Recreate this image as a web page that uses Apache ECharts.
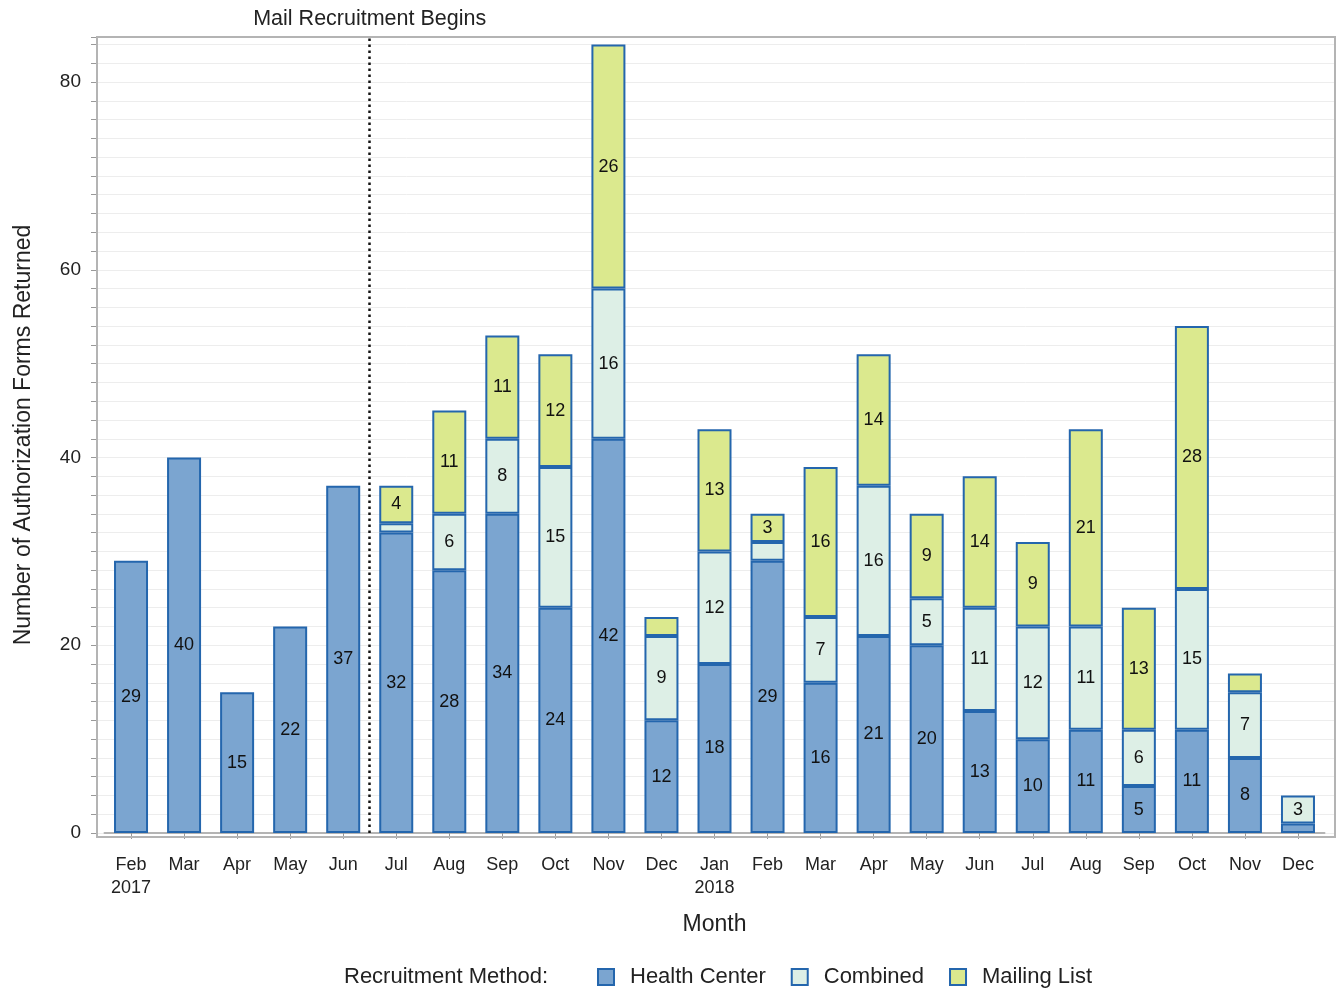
<!DOCTYPE html>
<html>
<head>
<meta charset="utf-8">
<script src="https://cdn.jsdelivr.net/npm/echarts@6/dist/echarts.min.js"></script>
<style>
html,body{margin:0;padding:0;background:#fff;}
#chart{width:1338px;height:989px;}
</style>
</head>
<body>
<div id="chart"></div>
<script>
const months = ['Feb\n2017','Mar','Apr','May','Jun','Jul','Aug','Sep','Oct','Nov','Dec','Jan\n2018','Feb','Mar','Apr','May','Jun','Jul','Aug','Sep','Oct','Nov','Dec'];
const healthCenter = [29,40,15,22,37,32,28,34,24,42,12,18,29,16,21,20,13,10,11,5,11,8,1];
const combined     = [null,null,null,null,null,1,6,8,15,16,9,12,2,7,16,5,11,12,11,6,15,7,3];
const mailingList  = [null,null,null,null,null,4,11,11,12,26,2,13,3,16,14,9,14,9,21,13,28,2,null];
const yTickLabels = [0,20,40,60,80];
const markerPosition = 4.5; // between Jun and Jul 2017 (category index units)
const markerText = 'Mail Recruitment Begins';

const FONT = '"Liberation Sans", Arial, sans-serif';
const BORDER = '#2466ad';
const colors = {hc:'#7ba5d0', comb:'#ddefe6', mail:'#dbe98e'};

// layout: bar grid and the wider framed grid
const W = 1338;
const L0 = 104.5, R0 = 1324.5;   // bar grid
const L1 = 97, R1 = 1335;        // frame grid
const band = (R0 - L0) / months.length;
const frameMin = (L1 - L0) / band - 0.5;
const frameMax = (R1 - L0) / band - 0.5;

function lbl(p){ return (p.value != null && p.value >= 3) ? String(p.value) : ''; }

function barSeries(name, data, fill){
  return {
    name: name, type: 'bar', stack: 'total', data: data,
    xAxisIndex: 0, yAxisIndex: 0,
    barWidth: 34,
    itemStyle: {color: fill, borderColor: BORDER, borderWidth: 2},
    label: {show: true, position: 'inside', formatter: lbl, color: '#111', fontSize: 18, fontFamily: FONT},
    emphasis: {disabled: true}
  };
}

const chart = echarts.init(document.getElementById('chart'));
chart.setOption({
  animation: false,
  backgroundColor: '#fff',
  title: {text: 'Recruitment Method:', left: 339, top: 961, textStyle: {fontSize: 22, fontWeight: 'normal', color: '#222', fontFamily: FONT}},
  graphic: [{type:'rect', shape:{x:L1, y:37, width:R1-L1, height:800}, style:{fill:'none', stroke:'#b4b4b4', lineWidth:2}, z: 1}],
  legend: {
    left: 592, top: 961, itemWidth: 16, itemHeight: 16, itemGap: 25,
    icon: 'rect',
    textStyle: {fontSize: 22, color: '#222', fontFamily: FONT, padding: [0,0,0,11]},
    data: ['Health Center','Combined','Mailing List']
  },
  grid: [
    {left: L0, right: W - R0, top: 37, bottom: 156},
    {left: L1, right: W - R1, top: 37, bottom: 156}
  ],
  xAxis: [
    {type: 'category', gridIndex: 0, data: months, offset: 4,
     axisLine: {show: true, lineStyle: {color: '#b4b4b4', width: 2}},
     axisTick: {show: true, alignWithLabel: true, interval: 0, length: 6, lineStyle: {color: '#999'}},
     axisLabel: {interval: 0, fontSize: 18, color: '#222', fontFamily: FONT, lineHeight: 23, margin: 17},
     name: 'Month', nameLocation: 'middle', nameGap: 76,
     nameTextStyle: {fontSize: 23, color: '#222', fontFamily: FONT}},
    {type: 'value', gridIndex: 1, min: frameMin, max: frameMax, show: false}
  ],
  yAxis: [
    {type: 'value', gridIndex: 0, min: 0, max: 84.8, interval: 2, show: false},
    {type: 'value', gridIndex: 1, min: 0, max: 84.8, interval: 2,
     axisLine: {show: false, onZero: false},
     axisTick: {show: true, length: 6, lineStyle: {color: '#999'}},
     axisLabel: {fontSize: 19, color: '#222', fontFamily: FONT, margin: 16,
       formatter: v => yTickLabels.indexOf(v) >= 0 ? String(v) : ''},
     splitLine: {show: true, lineStyle: {color: '#ededed', width: 1}},
     name: 'Number of Authorization Forms Returned', nameLocation: 'middle', nameGap: 62,
     nameTextStyle: {fontSize: 23, color: '#222', fontFamily: FONT}}
  ],
  series: [
    barSeries('Health Center', healthCenter, colors.hc),
    barSeries('Combined', combined, colors.comb),
    barSeries('Mailing List', mailingList, colors.mail),
    {
      name: 'marker', type: 'line', xAxisIndex: 1, yAxisIndex: 1, data: [],
      silent: true,
      markLine: {
        silent: true, symbol: 'none', animation: false,
        lineStyle: {type: [2.5, 3.5], color: '#111', width: 2.5},
        label: {show: true, position: 'end', formatter: markerText, fontSize: 21.5, color: '#222', fontFamily: FONT, distance: 7},
        data: [{xAxis: markerPosition}]
      }
    }
  ]
});
</script>
</body>
</html>
